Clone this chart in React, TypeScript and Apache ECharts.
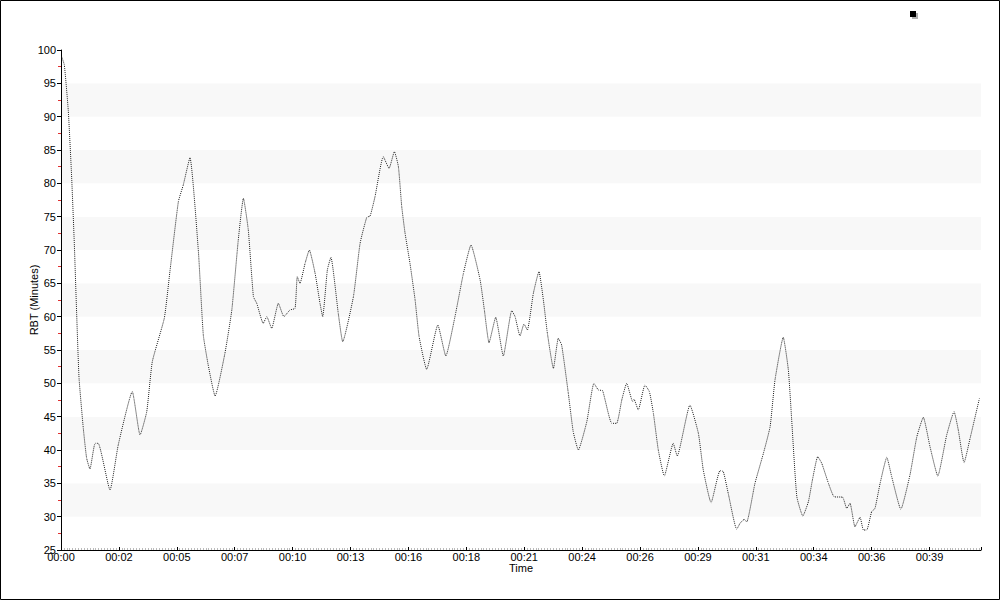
import React, { useEffect, useRef } from "react";
import * as echarts from "echarts";

// Tick labels of the time axis (one every 2.6 minutes)
const timeTicks = [
  "00:00", "00:02", "00:05", "00:07", "00:10", "00:13", "00:16", "00:18",
  "00:21", "00:24", "00:26", "00:29", "00:31", "00:34", "00:36", "00:39",
];
const tickStep = 2.6; // minutes between tick labels
const timeMax = 41.31;

// Elapsed time (minutes) of each sample
const timeMinutes = [
  0.03, 0.15, 0.33, 0.48, 0.6, 0.7, 0.81, 1.0, 1.15, 1.3, 1.53, 1.67, 2.2, 2.57,
  3.2, 3.55, 3.85, 4.1, 4.64, 4.89, 5.27, 5.49, 5.79, 6.17, 6.39, 6.61, 6.92,
  7.36, 7.67, 7.96, 8.19, 8.41, 8.64, 8.79, 9.08, 9.24, 9.46, 9.76, 10.01,
  10.28, 10.51, 10.61, 10.73, 10.96, 11.15, 11.41, 11.63, 11.75, 11.96, 12.12,
  12.45, 12.65, 13.13, 13.43, 13.73, 13.88, 14.1, 14.47, 14.73, 14.97, 15.15,
  15.3, 15.45, 15.67, 15.9, 16.08, 16.42, 16.92, 17.28, 17.69, 18.07, 18.41,
  18.82, 19.01, 19.22, 19.52, 19.86, 20.24, 20.39, 20.61, 20.79, 20.94, 21.21,
  21.46, 21.66, 21.84, 22.11, 22.33, 22.48, 22.78, 23.0, 23.23, 23.61, 23.93,
  24.13, 24.32, 24.73, 24.95, 25.18, 25.4, 25.67, 25.73, 25.92, 26.22, 26.42,
  26.6, 26.82, 27.09, 27.49, 27.67, 28.24, 28.62, 28.84, 29.19, 29.59, 29.74,
  29.96, 30.34, 30.49, 30.68, 30.79, 31.16, 31.54, 31.84, 32.06, 32.43, 32.66,
  32.81, 33.04, 33.31, 33.56, 33.74, 33.98, 34.16, 34.46, 34.71, 35.1, 35.28,
  35.43, 35.65, 35.88, 36.03, 36.18, 36.4, 36.55, 36.78, 37.08, 37.3, 37.71,
  38.12, 38.43, 38.72, 39.02, 39.37, 39.77, 40.1, 40.29, 40.55, 40.82, 41.24,
];

// RBT (minutes) at each sample
const rbtValues = [
  99.0, 97.75, 90.75, 80.8, 70.75, 60.75, 50.8, 43.3, 38.8, 37.15, 41.0, 41.0,
  34.0, 40.75, 48.75, 42.25, 45.75, 53.25, 59.8, 66.75, 77.25, 79.75, 83.85,
  69.75, 57.25, 52.75, 48.1, 54.5, 61.0, 71.5, 77.75, 73.0, 63.0, 62.0, 59.0,
  60.0, 58.25, 62.0, 60.0, 61.0, 61.25, 66.0, 65.0, 68.0, 70.0, 66.5, 62.0,
  60.0, 67.0, 68.9, 60.5, 56.25, 63.0, 71.0, 74.9, 75.1, 78.0, 84.0, 82.25,
  84.75, 82.5, 76.5, 72.5, 68.0, 62.5, 57.0, 52.1, 58.75, 54.1, 60.0, 66.5,
  70.75, 65.5, 61.0, 56.1, 59.9, 54.1, 60.9, 60.0, 57.1, 58.9, 58.0, 63.5,
  66.75, 62.5, 57.5, 52.25, 56.75, 55.75, 48.5, 42.75, 40.0, 44.25, 50.0, 49.0,
  48.9, 44.0, 44.0, 47.5, 50.0, 47.25, 47.6, 46.0, 49.75, 48.75, 45.5, 40.0,
  36.1, 41.0, 39.1, 46.75, 42.5, 37.0, 32.1, 36.9, 36.75, 33.5, 28.1, 29.0,
  29.6, 29.2, 35.0, 39.5, 43.5, 50.5, 56.9, 52.0, 44.5, 33.0, 30.1, 32.25, 35.5,
  39.0, 38.0, 35.0, 33.0, 32.9, 31.25, 32.0, 28.5, 29.9, 28.0, 28.0, 30.75,
  31.25, 35.0, 38.9, 36.0, 31.1, 36.25, 42.0, 44.9, 40.5, 36.1, 42.25, 45.75,
  43.0, 38.1, 41.75, 47.75,
];

const FONT = "'Liberation Sans', Arial, sans-serif";

export default function App() {
  const ref = useRef<HTMLDivElement>(null);

  useEffect(() => {
    if (!ref.current) return;
    const chart = echarts.init(ref.current, undefined, { renderer: "svg" });
    const data = timeMinutes.map((t, i) => [t, rbtValues[i]]);

    chart.setOption({
      animation: false,
      backgroundColor: "#ffffff",
      grid: { left: 61, right: 19, top: 50, bottom: 50, containLabel: false },
      xAxis: {
        type: "value",
        min: 0,
        max: timeMax,
        interval: tickStep,
        name: "Time",
        nameLocation: "middle",
        nameGap: 12,
        nameMoveOverlap: false,
        nameTextStyle: { color: "#000", fontSize: 11, fontFamily: FONT },
        axisLine: { show: true, lineStyle: { color: "#000", width: 1 } },
        axisTick: { show: true, inside: true, length: 3, lineStyle: { color: "#000" } },
        minorTick: { show: true, splitNumber: 20, length: 2, lineStyle: { color: "#bbb" } },
        splitLine: { show: false },
        axisLabel: {
          color: "#000",
          fontSize: 11,
          fontFamily: FONT,
          margin: 1,
          showMaxLabel: false,
          formatter: (v: number) => {
            const i = Math.round(v / tickStep);
            return timeTicks[i] ?? "";
          },
        },
      },
      yAxis: {
        type: "value",
        min: 25,
        max: 100,
        interval: 5,
        name: "RBT (Minutes)",
        nameLocation: "middle",
        nameGap: 22,
        nameMoveOverlap: false,
        nameRotate: 90,
        nameTextStyle: { color: "#000", fontSize: 11, fontFamily: FONT },
        axisLine: { show: true, lineStyle: { color: "#000", width: 1 } },
        axisTick: { show: true, length: 4, lineStyle: { color: "#000" } },
        minorTick: { show: true, splitNumber: 2, length: 3, lineStyle: { color: "#e03030" } },
        splitLine: { show: false },
        splitArea: { show: true, areaStyle: { color: ["#ffffff", "#f8f8f8"] } },
        axisLabel: { color: "#000", fontSize: 11, fontFamily: FONT, margin: 5 },
      },
      series: [
        {
          name: "RBT",
          type: "line",
          data,
          showSymbol: false,
          smooth: 0.15,
          lineStyle: { color: "#222", width: 1, type: "dotted" },
        },
      ],
      graphic: [
        {
          type: "rect",
          shape: { x: 0.5, y: 0.5, width: 999, height: 599 },
          style: { fill: "none", stroke: "#000", lineWidth: 1 },
          silent: true,
        },
        {
          type: "rect",
          shape: { x: 912, y: 13, width: 6, height: 6 },
          style: { fill: "#b0b0b0" },
          silent: true,
        },
        {
          type: "rect",
          shape: { x: 910, y: 11, width: 6, height: 6 },
          style: { fill: "#000" },
          silent: true,
        },
      ],
    });

    return () => chart.dispose();
  }, []);

  return (
    <div
      ref={ref}
      style={{ position: "absolute", left: 0, top: 0, width: 1000, height: 600 }}
    />
  );
}
